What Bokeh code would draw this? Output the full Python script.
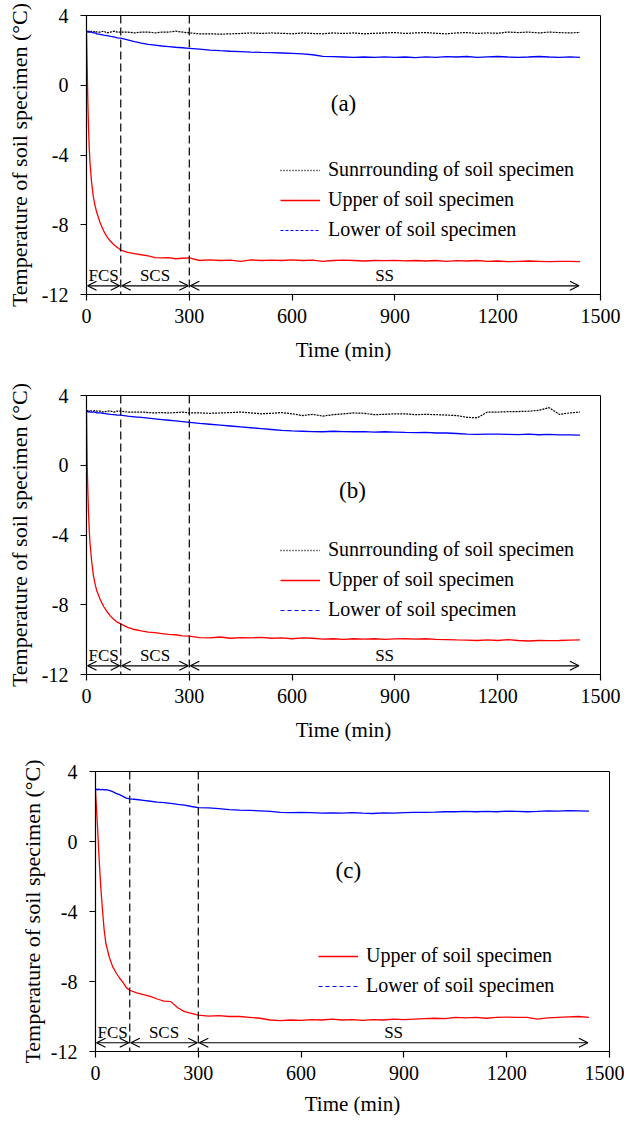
from bokeh.plotting import figure
from bokeh.layouts import column
from bokeh.models import Span, Arrow, OpenHead, Label, Legend, LegendItem, FixedTicker
from bokeh.embed import file_html
from bokeh.resources import INLINE

NaN = float("nan")

# ---------------- data ----------------
time_min = [0, 2, 4, 6, 8, 10, 15, 20, 25, 30,
            40, 50, 60, 70, 80, 90, 100,
            120, 140, 160, 180, 200, 220, 240, 260, 280,
            300, 330, 360, 390, 420, 450, 480, 510, 540, 570, 600, 630, 660, 690, 720,
            750, 780, 810, 840, 870, 900, 930, 960, 990, 1020, 1050, 1080, 1110, 1140,
            1170, 1200, 1230, 1260, 1290, 1320, 1350, 1380, 1410, 1440]

a_surround = [3.10, 3.05, 3.10, 3.05, 3.10, 3.05, 3.10, 3.05, 3.10, 3.05,
              3.05, 3.10, 3.00, 3.05, 3.10, 3.05, 3.05,
              3.05, 3.00, 3.05, 3.05, 3.00, 3.05, 3.05, 3.10, 3.05,
              3.00, 2.95, 2.95, 2.93, 2.95, 2.97, 3.00, 2.97, 3.00, 2.98,
              2.95, 3.00, 2.97, 2.95, 3.00, 2.97, 3.00, 2.95, 2.98, 3.00,
              3.02, 2.97, 3.00, 3.02, 2.98, 2.95, 3.00, 3.02, 2.97, 3.00,
              2.98, 3.05, 3.02, 3.05, 3.00, 3.05, 3.02, 3.00, 3.03]
a_upper = [3.10, 1.00, -1.00, -2.50, -3.60, -4.40, -5.60, -6.40, -6.90, -7.30,
           -7.90, -8.35, -8.70, -8.95, -9.15, -9.30, -9.45,
           -9.58, -9.65, -9.72, -9.78, -9.88, -9.90, -9.88, -9.95, -9.92,
           -9.90, -10.05, -10.02, -10.05, -10.03, -10.10, -10.02, -10.05, -10.03, -10.05,
           -10.02, -10.05, -10.03, -10.10, -10.05, -10.03, -10.05, -10.08, -10.05, -10.06,
           -10.04, -10.07, -10.05, -10.08, -10.05, -10.10, -10.06, -10.08, -10.05, -10.10,
           -10.08, -10.12, -10.10, -10.08, -10.10, -10.12, -10.10, -10.10, -10.12]
a_lower = [3.10, 3.10, 3.05, 3.10, 3.05, 3.05, 3.05, 3.00, 3.00, 2.95,
           2.92, 2.88, 2.85, 2.80, 2.77, 2.72, 2.70,
           2.60, 2.50, 2.42, 2.35, 2.30, 2.25, 2.22, 2.18, 2.15,
           2.12, 2.07, 2.02, 1.98, 1.95, 1.93, 1.90, 1.88, 1.87, 1.85,
           1.83, 1.80, 1.75, 1.66, 1.64, 1.62, 1.60, 1.62, 1.60, 1.63,
           1.60, 1.62, 1.58, 1.63, 1.60, 1.64, 1.62, 1.65, 1.60, 1.63,
           1.65, 1.62, 1.60, 1.62, 1.65, 1.62, 1.60, 1.63, 1.60]

b_surround = [3.10, 3.15, 3.10, 3.05, 3.10, 3.15, 3.10, 3.10, 3.15, 3.10,
              3.10, 3.05, 3.10, 3.10, 3.05, 3.10, 3.10,
              3.05, 3.05, 3.05, 3.02, 3.00, 3.02, 3.00, 3.02, 3.05,
              3.00, 3.00, 2.98, 3.00, 3.02, 3.05, 3.00, 2.95, 2.98, 3.02,
              2.95, 2.85, 2.92, 2.82, 2.90, 2.95, 3.00, 2.98, 2.90, 2.92,
              2.95, 2.95, 2.90, 2.92, 2.90, 2.88, 2.85, 2.75, 2.72, 3.05,
              3.05, 3.07, 3.08, 3.10, 3.15, 3.30, 2.92, 3.00, 3.05]
b_upper = [3.10, 0.00, -1.50, -2.80, -3.70, -4.40, -5.50, -6.30, -6.80, -7.20,
           -7.70, -8.10, -8.40, -8.65, -8.85, -9.00, -9.10,
           -9.30, -9.42, -9.50, -9.57, -9.60, -9.65, -9.70, -9.72, -9.78,
           -9.80, -9.88, -9.90, -9.85, -9.92, -9.88, -9.90, -9.87, -9.92, -9.90,
           -9.95, -9.90, -9.92, -9.97, -9.95, -9.98, -9.95, -9.97, -9.95, -9.98,
           -9.96, -9.95, -9.97, -9.95, -9.98, -10.00, -10.02, -10.03, -10.05, -10.02,
           -10.05, -10.00, -10.05, -10.08, -10.05, -10.06, -10.05, -10.03, -10.02]
b_lower = [3.10, 3.10, 3.05, 3.10, 3.10, 3.05, 3.05, 3.05, 3.05, 3.00,
           3.00, 2.97, 2.95, 2.92, 2.90, 2.88, 2.87,
           2.82, 2.78, 2.74, 2.70, 2.66, 2.62, 2.58, 2.54, 2.50,
           2.46, 2.40, 2.35, 2.30, 2.25, 2.20, 2.15, 2.10, 2.05, 2.00,
           1.97, 1.95, 1.93, 1.92, 1.95, 1.93, 1.92, 1.93, 1.90, 1.92,
           1.90, 1.88, 1.87, 1.88, 1.85, 1.85, 1.82, 1.78, 1.77, 1.78,
           1.78, 1.77, 1.76, 1.78, 1.75, 1.77, 1.74, 1.74, 1.73]

c_upper = [2.90, 2.20, 1.50, 0.80, 0.00, -0.80, -2.50, -3.80, -5.00, -5.80,
           -6.60, -7.15, -7.50, -7.80, -8.05, -8.35, -8.50,
           -8.65, -8.75, -8.85, -9.00, -9.12, -9.15, -9.50, -9.72, -9.82,
           -9.92, -9.98, -9.95, -10.00, -10.00, -10.05, -10.10, -10.20, -10.23, -10.20,
           -10.22, -10.18, -10.20, -10.15, -10.20, -10.18, -10.22, -10.18, -10.20, -10.15,
           -10.18, -10.15, -10.12, -10.10, -10.12, -10.05, -10.08, -10.05, -10.10, -10.05,
           -10.03, -10.05, -10.05, -10.15, -10.08, -10.05, -10.02, -10.00, -10.05]
c_lower = [2.95, 2.95, 3.00, 2.95, 2.95, 3.00, 2.95, 2.98, 2.95, 2.97,
           2.92, 2.85, 2.75, 2.68, 2.58, 2.48, 2.43,
           2.40, 2.35, 2.30, 2.25, 2.22, 2.18, 2.12, 2.08, 2.00,
           1.94, 1.92, 1.88, 1.82, 1.79, 1.78, 1.75, 1.72, 1.66, 1.65,
           1.67, 1.65, 1.62, 1.63, 1.62, 1.65, 1.62, 1.60, 1.63, 1.62,
           1.65, 1.66, 1.67, 1.68, 1.70, 1.70, 1.72, 1.70, 1.72, 1.70,
           1.73, 1.72, 1.70, 1.72, 1.75, 1.73, 1.77, 1.75, 1.73]

x_ticks = [0, 300, 600, 900, 1200, 1500]
y_ticks = [-12, -8, -4, 0, 4]
y_tick_labels = ["-12", "-8", "-4", "0", "4"]
stage_bounds = [0, 100, 300, 1440]
stage_names = ["FCS", "SCS", "SS"]
series_names = ["Sunrrounding of soil specimen", "Upper of soil specimen", "Lower of soil specimen"]
panel_tags = ["(a)", "(b)", "(c)"]
x_title = "Time (min)"
y_title = "Temperature of soil specimen (°C)"

FONT = "Liberation Serif"


def make_panel(surround, upper, lower, tag, h, left, right, top, bottom,
               ylab_standoff, xlab_standoff, legend_loc, lower_dash, tag_pos):
    p = figure(width=624, height=h, x_range=(0, 1500), y_range=(-12, 4),
               output_backend="svg", toolbar_location=None,
               min_border_left=left, min_border_right=right,
               min_border_top=top, min_border_bottom=bottom)
    p.xgrid.visible = False
    p.ygrid.visible = False
    p.outline_line_color = "black"
    p.outline_line_width = 1
    p.background_fill_color = "white"

    for ax in (p.xaxis[0], p.yaxis[0]):
        ax.axis_line_color = "black"
        ax.axis_line_width = 1.2
        ax.major_tick_line_color = "black"
        ax.major_tick_line_width = 1.2
        ax.major_tick_in = 0
        ax.major_tick_out = 6
        ax.minor_tick_line_color = None
        ax.major_label_text_font = FONT
        ax.major_label_text_font_size = "20px"
        ax.major_label_text_color = "black"
        ax.axis_label_text_font = FONT
        ax.axis_label_text_font_style = "normal"
        ax.axis_label_text_color = "black"

    p.xaxis.ticker = FixedTicker(ticks=x_ticks)
    p.yaxis.ticker = FixedTicker(ticks=y_ticks)
    p.yaxis.major_label_overrides = {t: s for t, s in zip(y_ticks, y_tick_labels)}
    p.xaxis.axis_label = x_title
    p.yaxis.axis_label = y_title
    p.xaxis.axis_label_text_font_size = "21px"
    p.yaxis.axis_label_text_font_size = "22px"
    p.xaxis.major_label_standoff = 8
    p.xaxis.axis_label_standoff = xlab_standoff
    p.yaxis.major_label_standoff = 12
    p.yaxis.axis_label_standoff = ylab_standoff

    # stage boundaries
    for b in stage_bounds[1:3]:
        p.add_layout(Span(location=b, dimension="height", line_color="black",
                          line_width=1.2, line_dash="8 4"))

    items = []
    if surround is not None:
        p.line(time_min, surround, line_color="black", line_width=1.2, line_dash="2 1")
        leg_s = p.line([NaN], [NaN], line_color="black", line_width=1.5, line_dash="1 2")
        items.append(LegendItem(label=series_names[0], renderers=[leg_s]))
    r_up = p.line(time_min, upper, line_color="#ff0000", line_width=1.3)
    items.append(LegendItem(label=series_names[1], renderers=[r_up]))
    p.line(time_min, lower, line_color="#0000ff", line_width=1.3)
    leg_l = p.line([NaN], [NaN], line_color="#0000ff", line_width=1.2, line_dash=lower_dash)
    items.append(LegendItem(label=series_names[2], renderers=[leg_l]))

    legend = Legend(items=items, location=legend_loc, orientation="vertical",
                    glyph_width=40, glyph_height=20, label_height=20,
                    label_standoff=8, spacing=7, padding=0, margin=0,
                    border_line_color=None, background_fill_alpha=0,
                    label_text_font=FONT, label_text_font_size="20px",
                    label_text_color="black")
    p.add_layout(legend)

    # stage arrows and names
    arrow_y = -11.5
    name_y = -10.9
    for i, name in enumerate(stage_names):
        x0, x1 = stage_bounds[i], stage_bounds[i + 1]
        p.add_layout(Arrow(x_start=x0 + 3, y_start=arrow_y, x_end=x1 - 3, y_end=arrow_y,
                           start=OpenHead(size=9, line_width=1.2, line_color="black"),
                           end=OpenHead(size=9, line_width=1.2, line_color="black"),
                           line_width=1.2, line_color="black"))
        p.add_layout(Label(x=(x0 + x1) / 2, y=name_y, text=name, text_align="center",
                           text_baseline="middle", text_font=FONT,
                           text_font_size="17px", text_color="black"))

    p.add_layout(Label(x=tag_pos[0], y=tag_pos[1], text=tag, text_align="center",
                       text_baseline="middle", text_font=FONT,
                       text_font_size="23px", text_color="black"))
    return p


pa = make_panel(a_surround, a_upper, a_lower, panel_tags[0], 380, 86, 24, 15, 86,
                7, 12, (194, 53), "3 2", (750, -1.05))
pb = make_panel(b_surround, b_upper, b_lower, panel_tags[1], 380, 86, 24, 15, 86,
                7, 12, (194, 53), "4 3", (776, -1.45))
pc = make_panel(None, c_upper, c_lower, panel_tags[2], 363, 95, 15, 11, 72,
                3, 9, (223, 54), "4 3", (738, -1.66))

# each panel wrapped on its own so that the panels keep their own frame positions
layout = column(column(pa), column(pb), column(pc), spacing=0)
open("out.html", "w").write(file_html(layout, INLINE))
